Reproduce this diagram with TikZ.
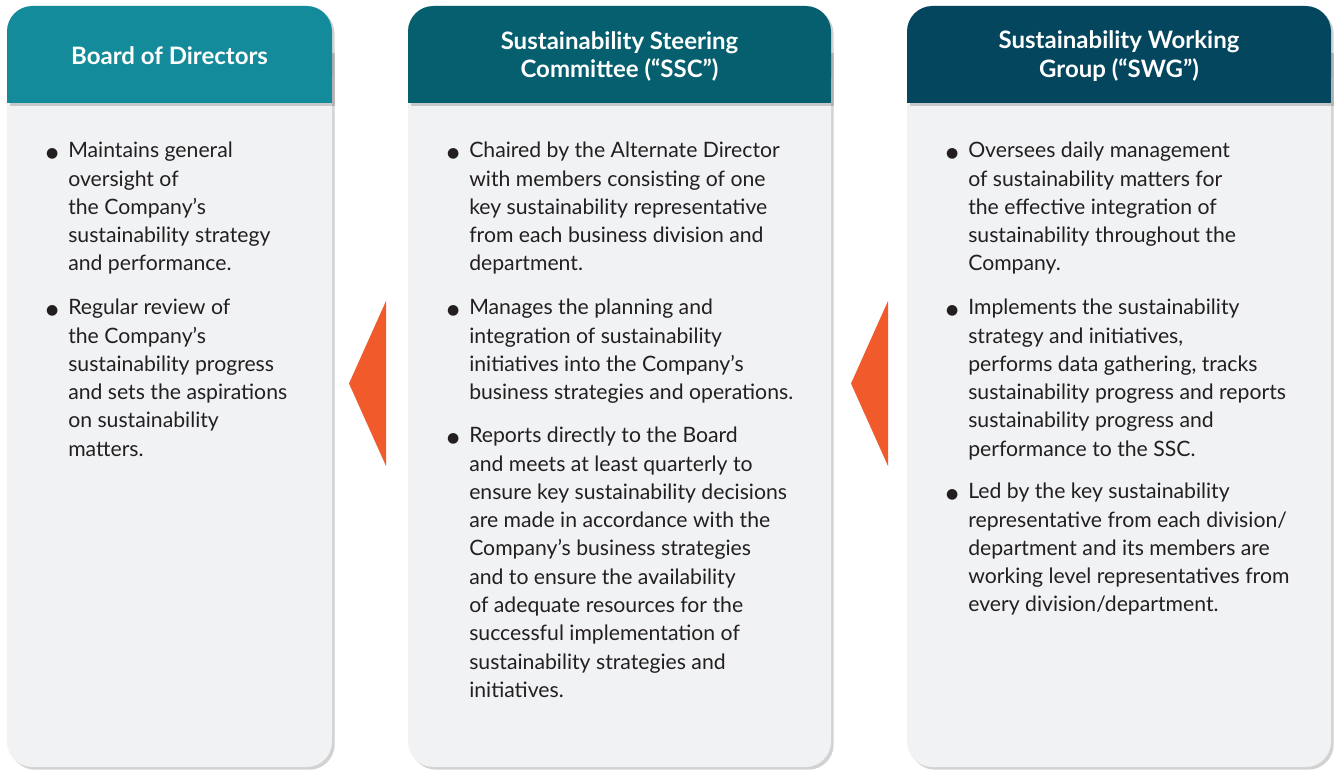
\documentclass[tikz,border=0pt]{standalone}
\usepackage{fontspec}
\setmainfont{Lato}
\newfontfamily\symfont{DejaVu Sans}
\usetikzlibrary{shadows}

\definecolor{bodteal}{HTML}{138B9B}
\definecolor{sscteal}{HTML}{065F6E}
\definecolor{swgblue}{HTML}{03465E}
\definecolor{cardgray}{HTML}{F1F2F4}
\definecolor{arroworange}{HTML}{F15A2B}
\definecolor{bodytext}{HTML}{231F20}

% hanging bullet in front of the first line
\newcommand{\bpt}{\makebox[0pt][r]{{\symfont\fontsize{10.5}{10.5}\selectfont ●}\hspace{7.5pt}}}

\tikzset{
  headtext/.style={text=white, inner sep=0, font=\fontsize{18}{21.7}\selectfont\bfseries, align=center},
  bullettext/.style={anchor=north west, inner sep=0, text=bodytext, font=\fontsize{15.9}{21.2}\selectfont, align=left},
  cardshadow/.style={drop shadow={shadow xshift=2pt, shadow yshift=-2pt, opacity=0.25, fill=black!70}},
}

\begin{document}
\begin{tikzpicture}[x=0.75pt, y=-0.75pt]
  \useasboundingbox (0,0) rectangle (1344,770);

  % cards
  \fill[cardgray, cardshadow, rounded corners=19pt] (7,6) rectangle (332,767);
  \fill[cardgray, cardshadow, rounded corners=19pt] (408,6) rectangle (831,767);
  \fill[cardgray, cardshadow, rounded corners=19pt] (907,6) rectangle (1331,767);

  % headers
  \fill[bodteal, rounded corners=19pt] (7,6) rectangle (332,103);
  \fill[bodteal, cardshadow] (7,50) rectangle (332,103);
  \fill[sscteal, rounded corners=19pt] (408,6) rectangle (831,103);
  \fill[sscteal, cardshadow] (408,50) rectangle (831,103);
  \fill[swgblue, rounded corners=19pt] (907,6) rectangle (1331,103);
  \fill[swgblue, cardshadow] (907,50) rectangle (1331,103);

  \node[headtext] (bod) at (169.5,56) {Board of Directors};
  \node[headtext] (ssc) at (619.5,56.5) {Sustainability Steering\\Committee (“SSC”)};
  \node[headtext] (swg) at (1119,56.5) {Sustainability Working\\Group (“SWG”)};

  % Board of Directors
  \node[bullettext] (bod1) at (68,142) {\bpt Maintains general\\oversight of\\the Company’s\\sustainability strategy\\and performance.};
  \node[bullettext] (bod2) at (68,299) {\bpt Regular review of\\the Company’s\\sustainability progress\\and sets the aspirations\\on sustainability\\matters.};

  % SSC
  \node[bullettext] (ssc1) at (469,142) {\bpt Chaired by the Alternate Director\\with members consisting of one\\key sustainability representative\\from each business division and\\department.};
  \node[bullettext] (ssc2) at (469,299) {\bpt Manages the planning and\\integration of sustainability\\initiatives into the Company’s\\business strategies and operations.};
  \node[bullettext] (ssc3) at (469,427) {\bpt Reports directly to the Board\\and meets at least quarterly to\\ensure key sustainability decisions\\are made in accordance with the\\Company’s business strategies\\and to ensure the availability\\of adequate resources for the\\successful implementation of\\sustainability strategies and\\initiatives.};

  % SWG
  \node[bullettext] (swg1) at (968,142) {\bpt Oversees daily management\\of sustainability matters for\\the effective integration of\\sustainability throughout the\\Company.};
  \node[bullettext] (swg2) at (968,299) {\bpt Implements the sustainability\\strategy and initiatives,\\performs data gathering, tracks\\sustainability progress and reports\\sustainability progress and\\performance to the SSC.};
  \node[bullettext] (swg3) at (968,483) {\bpt Led by the key sustainability\\representative from each division/\\department and its members are\\working level representatives from\\every division/department.};

  % reporting arrows
  \fill[arroworange] (386,301) -- (349,383.5) -- (386,466) -- cycle;
  \fill[arroworange] (888,301) -- (851,383.5) -- (888,466) -- cycle;
\end{tikzpicture}
\end{document}
